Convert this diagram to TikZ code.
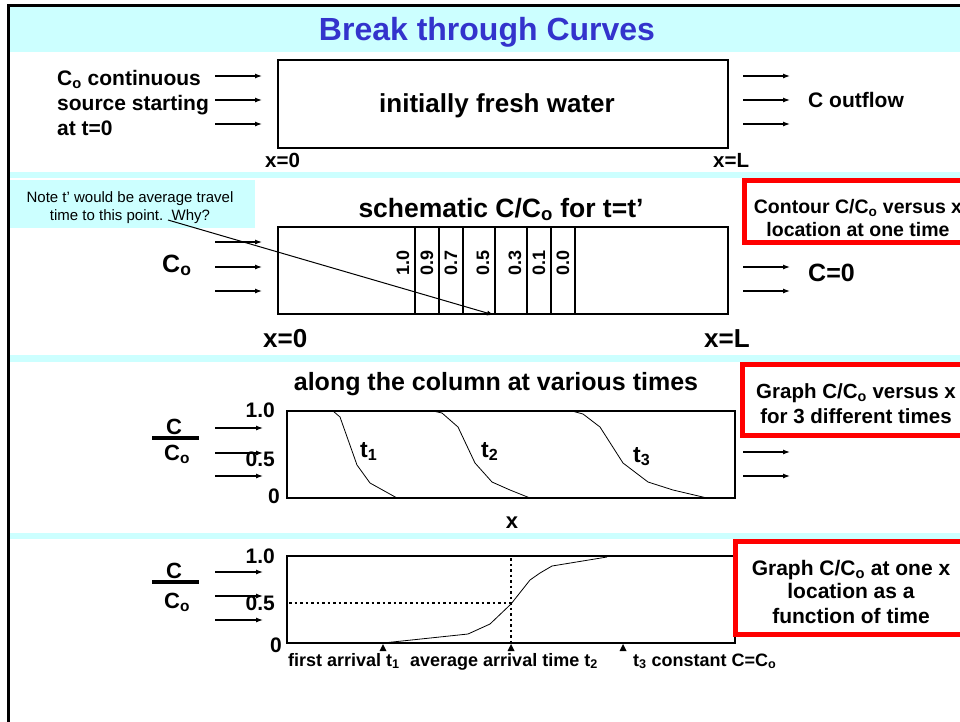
\documentclass[tikz,border=0pt]{standalone}
\usepackage{fontspec}
\setmainfont{Liberation Sans}
\usetikzlibrary{arrows.meta}
\definecolor{slidecyan}{RGB}{204,255,255}
\definecolor{titleblue}{RGB}{51,51,204}
\newcommand{\bsz}[1]{\fontsize{#1}{#1}\selectfont\bfseries}
\tikzset{flowarrow/.style = {-{Latex[length=7pt,width=5pt]}, line width=1.2pt}}
\tikzset{colbox/.style = {draw, line width=2.5pt, inner sep=0, outer sep=0}}
\tikzset{isoline/.style = {line width=1.5pt}}
\tikzset{btcurve/.style = {line width=0.8pt, line join=round}}
\tikzset{dotguide/.style = {line width=2.5pt, dash pattern=on 2.5pt off 3pt}}
\tikzset{fracbar/.style = {line width=4pt}}
\tikzset{redbox/.style = {draw=red, line width=5pt, fill=white, inner sep=0}}
\tikzset{notebox/.style = {fill=slidecyan, inner sep=0}}
\tikzset{lbl/.style = {font=\bsz{#1}, inner sep=0}}
\tikzset{notetxt/.style = {font=\fontsize{15}{18}\selectfont, inner sep=0}}
\begin{document}
\begin{tikzpicture}[x=1pt, y=-1pt]
    \useasboundingbox (0,0) rectangle (960,721);
    % slide bands
    \fill[slidecyan] (8,5) rectangle (1000,52);
    \foreach \ya/\yb in {172/178, 355/362, 533/539}
        \fill[slidecyan] (8,\ya) rectangle (1000,\yb);
    \draw[line width=3pt] (8,5) rectangle (1000,760);
    \node[lbl=32, text=titleblue, anchor=base] (title) at (487,40) {Break through Curves};

    % panel 1: the column at t=0
    \node[colbox, minimum width=450pt, minimum height=88pt] (col1) at (503,104) {};
    \node[lbl=26, anchor=base] (fresh) at (497,112) {initially fresh water};
    \node[lbl=21, anchor=base west] (src1) at (57,85) {C\textsubscript{o} continuous};
    \node[lbl=21, anchor=base west] (src2) at (57,110) {source starting};
    \node[lbl=21, anchor=base west] (src3) at (57,135) {at t=0};
    \foreach \y in {76,100,124} {
        \draw[flowarrow] (215,\y) -- (262,\y);
        \draw[flowarrow] (743,\y) -- (790,\y);
    }
    \node[lbl=21, anchor=base west] (cout) at (808,107) {C outflow};
    \node[lbl=20.5, anchor=base west] (x0a) at (265,167) {x=0};
    \node[lbl=20.5, anchor=base west] (xLa) at (713,167) {x=L};

    % panel 2: contours at t=t'
    \node[notebox, minimum width=245pt, minimum height=48pt] (note) at (132.5,204) {};
    \node[notetxt, anchor=base] (note1) at (130,202) {Note t’ would be average travel};
    \node[notetxt, anchor=base] (note2) at (130,220) {time to this point.\ \ Why?};
    \node[lbl=26.5, anchor=base] (schem) at (501,217) {schematic C/C\textsubscript{o} for t=t’};
    \node[colbox, minimum width=450pt, minimum height=87pt] (col2) at (503,270.5) {};
    \foreach \x/\v in {415/1.0, 439/0.9, 463/0.7, 495/0.5, 527/0.3, 551/0.1, 575/0.0} {
        \draw[isoline] (\x,227) -- (\x,314);
        \node[lbl=18, rotate=90] (c\x) at (\x-12,263) {\v};
    }
    \coordinate (notept) at (168,220);
    \coordinate (halfpt) at (494,315);
    \draw[flowarrow, line width=1pt] (notept) -- (halfpt);
    \foreach \y in {242,267,291}
        \draw[flowarrow] (215,\y) -- (262,\y);
    \foreach \y in {267,291}
        \draw[flowarrow] (743,\y) -- (790,\y);
    \node[lbl=25, anchor=base west] (co2) at (162,272) {C\textsubscript{o}};
    \node[lbl=25, anchor=base west] (czero) at (808,281) {C=0};
    \node[lbl=26, anchor=base west] (x0b) at (263,347) {x=0};
    \node[lbl=26, anchor=base west] (xLb) at (704,347) {x=L};
    \node[redbox, minimum width=231pt, minimum height=62pt] (rb1) at (859.5,211.5) {};
    \node[lbl=19.5, anchor=base] (rb1a) at (858,213) {Contour C/C\textsubscript{o} versus x};
    \node[lbl=19.5, anchor=base] (rb1b) at (858,236) {location at one time};

    % panel 3: C/Co versus x
    \node[lbl=25, anchor=base] (along) at (496,390) {along the column at various times};
    \node[colbox, minimum width=448pt, minimum height=87pt] (gr3) at (511,454.5) {};
    \draw[btcurve] (333,411) -- (340,417) -- (357,465) -- (370,483) -- (397,498);
    \draw[btcurve] (433,411) -- (442,413) -- (458,427) -- (475,463) -- (492,482) -- (510,490) -- (530,498);
    \draw[btcurve] (572,411) -- (583,414) -- (600,427) -- (623,463) -- (648,482) -- (673,490) -- (707,498);
    \node[lbl=21, anchor=base east] (one3) at (275,417) {1.0};
    \node[lbl=21, anchor=base east] (half3) at (275,466) {0.5};
    \node[lbl=21, anchor=base east] (zero3) at (280,503) {0};
    \node[lbl=22, anchor=base] (cc3) at (174,434) {C};
    \draw[fracbar] (152,438) -- (199,438);
    \node[lbl=22, anchor=base west] (co3) at (164,460) {C\textsubscript{o}};
    \foreach \y in {428,453,476}
        \draw[flowarrow] (215,\y) -- (263,\y);
    \foreach \y in {452,476}
        \draw[flowarrow] (743,\y) -- (790,\y);
    \node[lbl=23, anchor=base west] (t1) at (360,457) {t\textsubscript{1}};
    \node[lbl=23, anchor=base west] (t2) at (481,457) {t\textsubscript{2}};
    \node[lbl=23, anchor=base west] (t3) at (633,462) {t\textsubscript{3}};
    \node[lbl=22, anchor=base] (xlab) at (512,528) {x};
    \node[redbox, minimum width=227pt, minimum height=71pt] (rb2) at (856,400) {};
    \node[lbl=20.5, anchor=base] (rb2a) at (856,398) {Graph C/C\textsubscript{o} versus x};
    \node[lbl=20.5, anchor=base] (rb2b) at (856,423) {for 3 different times};

    % panel 4: C/Co versus time
    \node[colbox, minimum width=448pt, minimum height=87pt] (gr4) at (511,599.5) {};
    \draw[dotguide] (289,603) -- (511,603);
    \draw[dotguide] (511,558) -- (511,642);
    \draw[btcurve] (383,643) -- (468,634) -- (490,624) -- (511,604) -- (530,580) -- (540,573) -- (552,566) -- (607,557);
    \node[lbl=21, anchor=base east] (one4) at (275,563) {1.0};
    \node[lbl=21, anchor=base east] (half4) at (275,610) {0.5};
    \node[lbl=21, anchor=base east] (zero4) at (282,652) {0};
    \node[lbl=22, anchor=base] (cc4) at (174,578) {C};
    \draw[fracbar] (152,582) -- (199,582);
    \node[lbl=22, anchor=base west] (co4) at (164,608) {C\textsubscript{o}};
    \foreach \y in {572,596,620}
        \draw[flowarrow] (215,\y) -- (263,\y);
    \foreach \x in {383,511,623}
        \fill (\x-3.5,651) -- (\x,644) -- (\x+3.5,651) -- cycle;
    \node[lbl=18, anchor=base west] (arr1) at (288,666) {first arrival t\textsubscript{1}};
    \node[lbl=18, anchor=base west] (arr2) at (410,666) {average arrival time t\textsubscript{2}};
    \node[lbl=18, anchor=base west] (arr3) at (633,666) {t\textsubscript{3} constant C=C\textsubscript{o}};
    \node[redbox, minimum width=231pt, minimum height=93pt] (rb3) at (851,588) {};
    \node[lbl=21, anchor=base] (rb3a) at (851,575) {Graph C/C\textsubscript{o} at one x};
    \node[lbl=21, anchor=base] (rb3b) at (851,598) {location as a};
    \node[lbl=21, anchor=base] (rb3c) at (851,623) {function of time};
\end{tikzpicture}
\end{document}
